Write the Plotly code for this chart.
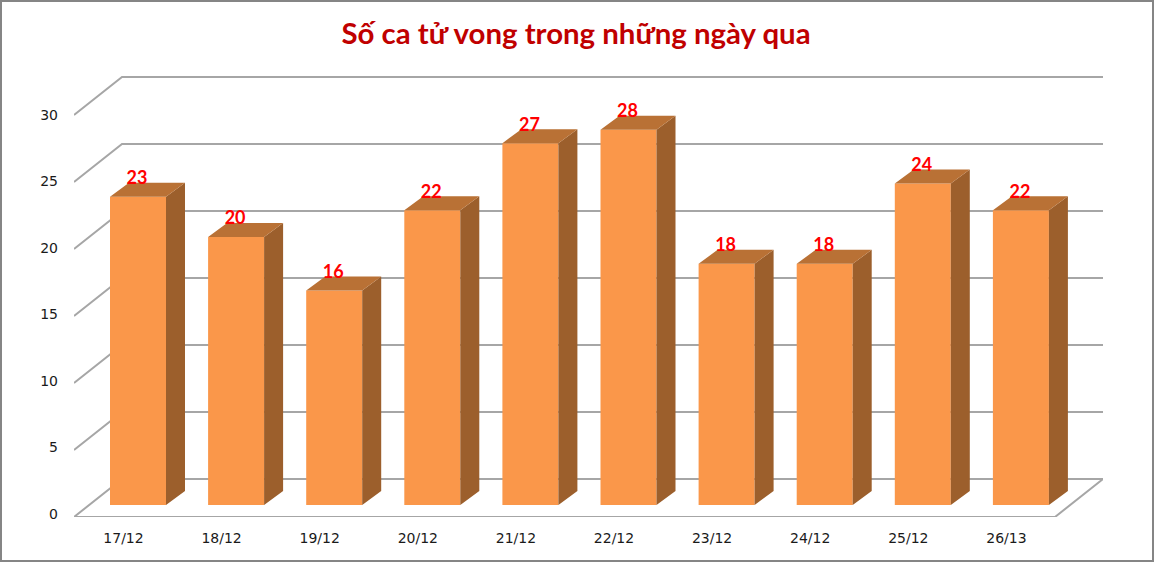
import plotly.graph_objects as go

dates = ["17/12", "18/12", "19/12", "20/12", "21/12", "22/12", "23/12", "24/12", "25/12", "26/13"]
deaths = [23, 20, 16, 22, 27, 28, 18, 18, 24, 22]
y_ticks = [0, 5, 10, 15, 20, 25, 30]

W, H = 1155, 563
# plot area in page pixels (the box of the wall and floor)
left, right, top, bottom = 74, 1103, 76, 517
px_cat = 98.1      # pixels per category
px_val = 13.4      # pixels per death
px_label = 13.3    # the printed tick labels are spaced a bit tighter
first_bar = 138    # page x of first bar centre
bar_base = 505     # page y of the bars' zero
bar_w = 56 / px_cat

# "3d" offsets in axis units
bar_dx = 19 / px_cat
bar_dy = 14 / px_val
wall_dx = 48 / px_cat
front_x = (left - first_bar) / px_cat
back_x = (right - first_bar) / px_cat
front_y = (bar_base - bottom) / px_val
back_y = front_y + 38 / px_val
top_y = (bar_base - top) / px_val
label_low = -3 / px_label

idx = list(range(len(dates)))

side_x, side_y, top_x, top_y_pts = [], [], [], []
for i, v in zip(idx, deaths):
    x0 = i - bar_w / 2
    x1 = i + bar_w / 2
    side_x += [x1, x1 + bar_dx, x1 + bar_dx, x1, x1, None]
    side_y += [0, bar_dy, v + bar_dy, v, 0, None]
    top_x += [x0, x1, x1 + bar_dx, x0 + bar_dx, x0, None]
    top_y_pts += [v, v, v + bar_dy, v + bar_dy, v, None]

fig = go.Figure()
fig.add_trace(go.Bar(x=idx, y=deaths, width=bar_w, marker=dict(color="#FA974A", line=dict(width=0)),
                     hoverinfo="skip"))
fig.add_trace(go.Scatter(x=side_x, y=side_y, mode="lines", fill="toself", fillcolor="#9C5F2C",
                         line=dict(width=0, color="#9C5F2C"), hoverinfo="skip"))
fig.add_trace(go.Scatter(x=top_x, y=top_y_pts, mode="lines", fill="toself", fillcolor="#B97135",
                         line=dict(width=0, color="#B97135"), hoverinfo="skip"))
fig.add_trace(go.Scatter(x=[i - 0.01 for i in idx], y=[v + 1.27 for v in deaths], mode="text",
                         text=[str(v) for v in deaths],
                         textfont=dict(family="Lato", size=18, color="#FF0000", weight="bold"),
                         textposition="middle center", hoverinfo="skip"))
# only here so the label axes get drawn
fig.add_trace(go.Scatter(x=idx, y=deaths, mode="none", xaxis="x2", yaxis="y2", hoverinfo="skip"))

# wall and floor lines
shapes = []
for t in y_ticks:
    y_f = t + front_y
    y_b = t + back_y
    shapes.append(dict(type="path", xref="x", yref="y", layer="below",
                       path=f"M {front_x},{y_f} L {front_x + wall_dx},{y_b} L {back_x},{y_b}",
                       line=dict(color="#A6A6A6", width=2)))
floor_end = back_x - wall_dx
shapes.append(dict(type="path", xref="x", yref="y", layer="below",
                   path=f"M {front_x},{front_y} L {floor_end},{front_y} L {back_x},{back_y}",
                   line=dict(color="#A6A6A6", width=2)))

# picture frame, in paper units of the plot area
pw = right - left
ph = bottom - top
shapes.append(dict(type="rect", xref="paper", yref="paper",
                   x0=(1 - left) / pw, x1=(1153 - left) / pw,
                   y0=(bottom - 561) / ph, y1=(bottom - 1) / ph,
                   line=dict(color="#858585", width=2)))

fig.update_layout(
    width=W, height=H,
    margin=dict(l=left, r=W - right, t=top, b=H - bottom, pad=0),
    paper_bgcolor="white", plot_bgcolor="white",
    showlegend=False,
    shapes=shapes,
    title=dict(text="<b>Số ca tử vong trong những ngày qua</b>", x=(342 + 810) / 2 / W, xanchor="center",
               y=1 - 34 / H, yanchor="middle",
               font=dict(family="Lato", size=29.4, color="#C00000")),
    xaxis=dict(range=[front_x, back_x], visible=False),
    yaxis=dict(range=[front_y, top_y], visible=False),
    # label axes: the printed ticks sit on the front edge, not at the bars
    xaxis2=dict(overlaying="x", anchor="y2", side="bottom",
                range=[front_x + 14.5 / px_cat, back_x + 14.5 / px_cat],
                tickvals=idx, ticktext=dates, tickfont=dict(family="DejaVu Sans", size=14, color="#1A1A1A"),
                showgrid=False, zeroline=False, showline=False, ticks="", ticklabelstandoff=11),
    yaxis2=dict(overlaying="y", anchor="x2", side="left",
                range=[label_low, label_low + (bottom - top) / px_label],
                tickvals=y_ticks, tickfont=dict(family="DejaVu Sans", size=14, color="#1A1A1A"),
                showgrid=False, zeroline=False, showline=False, ticks="", ticklabelstandoff=15),
)

# page has a default 8px body margin, drop it so the picture fits the window
fig.write_html("out.html", post_script="document.body.style.margin='0';", config=dict(displayModeBar=False))
